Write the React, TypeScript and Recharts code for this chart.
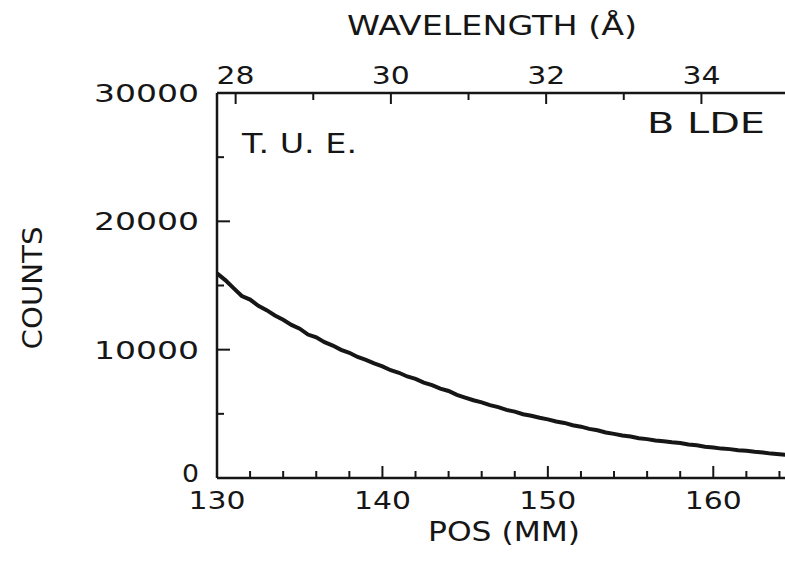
import React from "react";
import { LineChart, Line, XAxis, YAxis } from "recharts";

const POS_MM = [
  130, 130.5, 131, 131.5, 132, 132.5, 133, 133.5, 134, 134.5,
  135, 135.5, 136, 136.5, 137, 137.5, 138, 138.5, 139, 139.5,
  140, 140.5, 141, 141.5, 142, 142.5, 143, 143.5, 144, 144.5,
  145, 145.5, 146, 146.5, 147, 147.5, 148, 148.5, 149, 149.5,
  150, 150.5, 151, 151.5, 152, 152.5, 153, 153.5, 154, 154.5,
  155, 155.5, 156, 156.5, 157, 157.5, 158, 158.5, 159, 159.5,
  160, 160.5, 161, 161.5, 162, 162.5, 163, 163.5, 164, 164.5, 165,
];
const COUNTS = [
  15950, 15420, 14800, 14180, 13900, 13420, 13080, 12660, 12330, 11930,
  11640, 11180, 10960, 10580, 10320, 9990, 9760, 9430, 9200, 8930,
  8700, 8400, 8200, 7910, 7720, 7430, 7240, 6960, 6780, 6480,
  6270, 6060, 5890, 5680, 5520, 5310, 5170, 4970, 4850, 4690,
  4570, 4400, 4290, 4110, 4000, 3830, 3720, 3550, 3440, 3310,
  3230, 3100, 3030, 2930, 2870, 2780, 2720, 2610, 2550, 2440,
  2380, 2290, 2250, 2170, 2120, 2040, 1990, 1900, 1850, 1780, 1750,
];

const POS_TICKS = [130, 132, 134, 136, 138, 140, 142, 144, 146, 148, 150, 152, 154, 156, 158, 160, 162, 164];
const COUNT_TICKS = [0, 5000, 10000, 15000, 20000, 25000, 30000];
const WAVE_TICKS = [28, 29, 30, 31, 32, 33, 34];
// wavelength calibration: value at 130 mm and Å per mm (linear over the range)
const WAVE_AT_130 = 27.76;
const WAVE_PER_MM = 0.2131;
const WAVE_DOMAIN = [WAVE_AT_130, WAVE_AT_130 + 35 * WAVE_PER_MM];

const INK = "#161616";
const FONT = "'DejaVu Sans', sans-serif";

const data = POS_MM.map((pos, i) => ({
  pos,
  wave: WAVE_AT_130 + (pos - 130) * WAVE_PER_MM,
  counts: COUNTS[i],
}));

function PlotText({ x, y, w, size = 24, anchor = "middle", rotate, children }: any) {
  return (
    <text
      x={x}
      y={y}
      fontFamily={FONT}
      fontSize={size}
      fill={INK}
      textAnchor={anchor}
      textLength={w}
      lengthAdjust="spacingAndGlyphs"
      transform={rotate ? `rotate(${rotate} ${x} ${y})` : undefined}
    >
      {children}
    </text>
  );
}

function PosTick({ x, y, payload }: any) {
  const v = payload.value;
  const major = v % 10 === 0;
  return (
    <g>
      <line x1={x} y1={y} x2={x} y2={y - (major ? 12 : 7)} stroke={INK} strokeWidth={2} />
      {major && <PlotText x={x} y={y + 31} w={57}>{v}</PlotText>}
    </g>
  );
}

function WaveTick({ x, y, payload }: any) {
  const v = payload.value;
  const major = v % 2 === 0;
  return (
    <g>
      <line x1={x} y1={y} x2={x} y2={y + (major ? 11 : 7)} stroke={INK} strokeWidth={2} />
      {major && <PlotText x={x} y={y - 9} w={38}>{v}</PlotText>}
    </g>
  );
}

function CountTick({ x, y, payload }: any) {
  const v = payload.value;
  const major = v % 10000 === 0;
  const s = String(v);
  // the "0" sits a touch higher so it clears the 130 below it
  const dy = v === 0 ? 4 : 9;
  return (
    <g>
      <line x1={x} y1={y} x2={x + (major ? 13 : 7)} y2={y} stroke={INK} strokeWidth={2} />
      {major && (
        <PlotText x={x - 18} y={y + dy} w={s.length === 1 ? 17 : s.length * 21} anchor="end">
          {s}
        </PlotText>
      )}
    </g>
  );
}

export default function App() {
  return (
    <div
      style={{
        position: "absolute",
        left: 0,
        top: 0,
        width: 785,
        height: 562,
        overflow: "hidden",
        background: "#fff",
      }}
    >
      <LineChart width={820} height={562} data={data} margin={{ top: 63, right: 24, bottom: 54, left: 187 }}>
        <XAxis
          xAxisId="pos"
          dataKey="pos"
          type="number"
          domain={[130, 165]}
          allowDataOverflow
          ticks={POS_TICKS}
          interval={0}
          height={30}
          tickSize={0}
          tickMargin={0}
          tickLine={false}
          tick={<PosTick />}
          axisLine={{ stroke: INK, strokeWidth: 2.5 }}
        />
        <XAxis
          xAxisId="wave"
          dataKey="wave"
          orientation="top"
          type="number"
          domain={WAVE_DOMAIN}
          allowDataOverflow
          ticks={WAVE_TICKS}
          interval={0}
          height={30}
          tickSize={0}
          tickMargin={0}
          tickLine={false}
          tick={<WaveTick />}
          axisLine={{ stroke: INK, strokeWidth: 2.5 }}
        />
        <YAxis
          yAxisId="counts"
          type="number"
          domain={[0, 30000]}
          allowDataOverflow
          ticks={COUNT_TICKS}
          interval={0}
          width={30}
          tickSize={0}
          tickMargin={0}
          tickLine={false}
          tick={<CountTick />}
          axisLine={{ stroke: INK, strokeWidth: 2.5 }}
        />
        <Line
          xAxisId="pos"
          yAxisId="counts"
          type="linear"
          dataKey="counts"
          stroke={INK}
          strokeWidth={4}
          dot={false}
          isAnimationActive={false}
        />
      </LineChart>
      <svg
        width={785}
        height={562}
        style={{ position: "absolute", left: 0, top: 0, pointerEvents: "none" }}
      >
        <PlotText x={492} y={35} w={290} size={26}>WAVELENGTH (Å)</PlotText>
        <PlotText x={42} y={288} w={123} size={27} rotate={-90}>COUNTS</PlotText>
        <PlotText x={504} y={541} w={152} size={26}>POS (MM)</PlotText>
        <PlotText x={242} y={153} w={115} size={26} anchor="start">T. U. E.</PlotText>
        <PlotText x={647} y={133} w={118} size={28} anchor="start">B LDE</PlotText>
      </svg>
    </div>
  );
}
